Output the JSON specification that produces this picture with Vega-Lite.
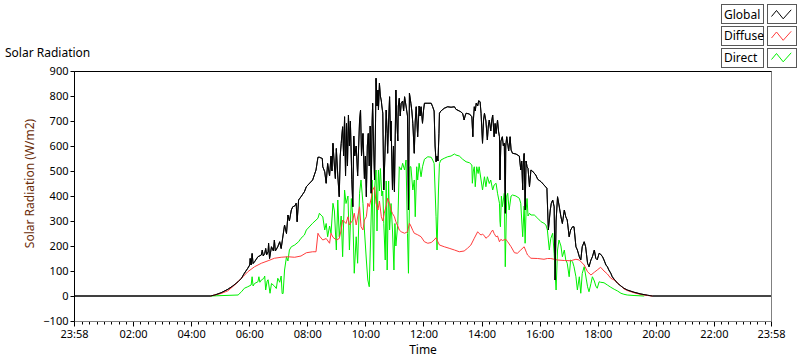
{
  "$schema": "https://vega.github.io/schema/vega-lite/v6.json",
  "width": 697,
  "height": 250,
  "autosize": {"type": "none"},
  "padding": {"left": 74, "top": 71, "right": 29, "bottom": 40},
  "background": "white",
  "title": {"text": "Solar Radiation", "anchor": "start", "frame": "group", "dx": -69, "dy": 60, "fontSize": 12, "fontWeight": "normal", "font": "Noto Sans", "color": "black", "offset": 4},
  "datasets": {
    "global": [
      {"m":-2,"v":0},{"m":280,"v":0},{"m":289,"v":4},{"m":302,"v":13},{"m":316,"v":27},{"m":326,"v":40},{"m":337,"v":57},{"m":344,"v":71},{"m":350,"v":91},{"m":357,"v":111},{"m":361,"v":124},{"m":362,"v":150},{"m":364,"v":124},{"m":366,"v":170},{"m":368,"v":130},{"m":371,"v":137},{"m":378,"v":157},{"m":385,"v":164},{"m":387,"v":184},{"m":389,"v":160},{"m":392,"v":170},{"m":394,"v":190},{"m":396,"v":165},{"m":399,"v":177},{"m":400,"v":211},{"m":402,"v":150},{"m":406,"v":197},{"m":410,"v":180},{"m":412,"v":224},{"m":414,"v":180},{"m":419,"v":197},{"m":423,"v":217},{"m":426,"v":190},{"m":430,"v":244},{"m":433,"v":284},{"m":437,"v":250},{"m":440,"v":324},{"m":443,"v":300},{"m":447,"v":344},{"m":450,"v":357},{"m":454,"v":360},{"m":457,"v":371},{"m":459,"v":297},{"m":462,"v":384},{"m":467,"v":397},{"m":474,"v":417},{"m":478,"v":437},{"m":491,"v":464},{"m":498,"v":504},{"m":502,"v":555},{"m":505,"v":555},{"m":511,"v":550},{"m":512,"v":517},{"m":516,"v":497},{"m":519,"v":451},{"m":522,"v":530},{"m":526,"v":480},{"m":529,"v":560},{"m":531,"v":500},{"m":533,"v":611},{"m":536,"v":520},{"m":538,"v":470},{"m":540,"v":590},{"m":543,"v":480},{"m":546,"v":397},{"m":548,"v":560},{"m":550,"v":610},{"m":553,"v":677},{"m":555,"v":560},{"m":557,"v":717},{"m":559,"v":480},{"m":561,"v":690},{"m":563,"v":520},{"m":565,"v":724},{"m":567,"v":600},{"m":569,"v":700},{"m":572,"v":465},{"m":574,"v":357},{"m":576,"v":640},{"m":578,"v":560},{"m":581,"v":600},{"m":584,"v":480},{"m":588,"v":704},{"m":590,"v":744},{"m":592,"v":560},{"m":595,"v":650},{"m":598,"v":470},{"m":600,"v":560},{"m":602,"v":397},{"m":604,"v":600},{"m":606,"v":650},{"m":608,"v":520},{"m":610,"v":680},{"m":612,"v":411},{"m":614,"v":700},{"m":615,"v":771},{"m":617,"v":600},{"m":619,"v":464},{"m":621,"v":700},{"m":622,"v":871},{"m":624,"v":760},{"m":626,"v":824},{"m":627,"v":744},{"m":629,"v":851},{"m":631,"v":800},{"m":633,"v":780},{"m":634,"v":760},{"m":636,"v":731},{"m":638,"v":424},{"m":640,"v":540},{"m":643,"v":744},{"m":645,"v":650},{"m":646,"v":571},{"m":648,"v":700},{"m":650,"v":797},{"m":652,"v":620},{"m":653,"v":700},{"m":656,"v":424},{"m":658,"v":600},{"m":660,"v":417},{"m":663,"v":824},{"m":665,"v":700},{"m":667,"v":620},{"m":668,"v":760},{"m":670,"v":791},{"m":672,"v":720},{"m":674,"v":771},{"m":677,"v":780},{"m":679,"v":740},{"m":681,"v":797},{"m":684,"v":760},{"m":687,"v":720},{"m":689,"v":344},{"m":691,"v":811},{"m":694,"v":771},{"m":696,"v":740},{"m":698,"v":691},{"m":701,"v":571},{"m":703,"v":700},{"m":705,"v":757},{"m":708,"v":637},{"m":711,"v":760},{"m":713,"v":720},{"m":715,"v":757},{"m":718,"v":691},{"m":720,"v":740},{"m":722,"v":771},{"m":729,"v":771},{"m":736,"v":771},{"m":739,"v":757},{"m":742,"v":740},{"m":744,"v":600},{"m":746,"v":537},{"m":748,"v":560},{"m":750,"v":540},{"m":752,"v":650},{"m":753,"v":731},{"m":756,"v":740},{"m":763,"v":751},{"m":770,"v":757},{"m":777,"v":755},{"m":784,"v":757},{"m":787,"v":747},{"m":794,"v":740},{"m":797,"v":737},{"m":801,"v":730},{"m":804,"v":704},{"m":806,"v":720},{"m":808,"v":731},{"m":815,"v":728},{"m":820,"v":717},{"m":822,"v":637},{"m":823,"v":700},{"m":825,"v":757},{"m":827,"v":740},{"m":829,"v":771},{"m":832,"v":760},{"m":834,"v":781},{"m":837,"v":777},{"m":839,"v":730},{"m":842,"v":611},{"m":844,"v":700},{"m":846,"v":731},{"m":849,"v":700},{"m":852,"v":624},{"m":854,"v":680},{"m":856,"v":704},{"m":859,"v":660},{"m":861,"v":700},{"m":863,"v":724},{"m":866,"v":637},{"m":868,"v":690},{"m":870,"v":650},{"m":873,"v":704},{"m":875,"v":660},{"m":877,"v":637},{"m":878,"v":464},{"m":880,"v":620},{"m":883,"v":637},{"m":885,"v":600},{"m":887,"v":611},{"m":889,"v":331},{"m":890,"v":600},{"m":892,"v":637},{"m":894,"v":610},{"m":896,"v":580},{"m":899,"v":637},{"m":901,"v":584},{"m":904,"v":571},{"m":911,"v":568},{"m":918,"v":560},{"m":921,"v":504},{"m":923,"v":540},{"m":925,"v":424},{"m":926,"v":520},{"m":928,"v":570},{"m":930,"v":344},{"m":932,"v":540},{"m":934,"v":517},{"m":936,"v":510},{"m":939,"v":437},{"m":942,"v":504},{"m":945,"v":500},{"m":952,"v":484},{"m":956,"v":467},{"m":963,"v":457},{"m":969,"v":444},{"m":975,"v":431},{"m":978,"v":264},{"m":982,"v":344},{"m":984,"v":370},{"m":987,"v":384},{"m":990,"v":357},{"m":992,"v":64},{"m":994,"v":300},{"m":997,"v":397},{"m":1000,"v":364},{"m":1004,"v":317},{"m":1007,"v":290},{"m":1011,"v":344},{"m":1014,"v":317},{"m":1017,"v":304},{"m":1021,"v":237},{"m":1024,"v":264},{"m":1028,"v":277},{"m":1031,"v":277},{"m":1035,"v":197},{"m":1038,"v":184},{"m":1042,"v":157},{"m":1045,"v":144},{"m":1048,"v":197},{"m":1052,"v":217},{"m":1055,"v":197},{"m":1059,"v":131},{"m":1062,"v":117},{"m":1066,"v":144},{"m":1069,"v":157},{"m":1073,"v":184},{"m":1076,"v":151},{"m":1079,"v":145},{"m":1083,"v":171},{"m":1086,"v":167},{"m":1090,"v":157},{"m":1093,"v":144},{"m":1097,"v":124},{"m":1100,"v":117},{"m":1103,"v":104},{"m":1107,"v":91},{"m":1110,"v":77},{"m":1114,"v":67},{"m":1121,"v":51},{"m":1128,"v":40},{"m":1134,"v":31},{"m":1141,"v":24},{"m":1155,"v":15},{"m":1169,"v":8},{"m":1183,"v":3},{"m":1193,"v":0},{"m":1438,"v":0}
    ],
    "diffuse": [
      {"m":280,"v":0},{"m":302,"v":10},{"m":316,"v":21},{"m":330,"v":44},{"m":344,"v":71},{"m":357,"v":97},{"m":371,"v":117},{"m":385,"v":131},{"m":399,"v":141},{"m":412,"v":151},{"m":426,"v":155},{"m":440,"v":157},{"m":454,"v":155},{"m":467,"v":160},{"m":478,"v":173},{"m":491,"v":177},{"m":498,"v":177},{"m":502,"v":251},{"m":505,"v":240},{"m":512,"v":224},{"m":519,"v":230},{"m":526,"v":211},{"m":529,"v":251},{"m":533,"v":235},{"m":540,"v":224},{"m":546,"v":230},{"m":550,"v":264},{"m":553,"v":304},{"m":560,"v":290},{"m":564,"v":317},{"m":567,"v":284},{"m":574,"v":304},{"m":577,"v":331},{"m":581,"v":284},{"m":588,"v":357},{"m":591,"v":277},{"m":595,"v":264},{"m":598,"v":304},{"m":602,"v":317},{"m":605,"v":371},{"m":608,"v":357},{"m":612,"v":390},{"m":615,"v":424},{"m":619,"v":437},{"m":622,"v":371},{"m":626,"v":344},{"m":629,"v":380},{"m":633,"v":317},{"m":636,"v":300},{"m":639,"v":331},{"m":643,"v":360},{"m":646,"v":391},{"m":650,"v":370},{"m":653,"v":344},{"m":656,"v":330},{"m":660,"v":317},{"m":663,"v":297},{"m":667,"v":280},{"m":670,"v":264},{"m":674,"v":257},{"m":681,"v":251},{"m":687,"v":257},{"m":691,"v":291},{"m":694,"v":280},{"m":698,"v":262},{"m":701,"v":251},{"m":708,"v":245},{"m":715,"v":237},{"m":722,"v":217},{"m":729,"v":211},{"m":736,"v":214},{"m":742,"v":224},{"m":746,"v":233},{"m":749,"v":220},{"m":753,"v":204},{"m":763,"v":197},{"m":773,"v":191},{"m":784,"v":184},{"m":794,"v":177},{"m":804,"v":180},{"m":811,"v":191},{"m":818,"v":204},{"m":825,"v":231},{"m":832,"v":257},{"m":835,"v":250},{"m":839,"v":244},{"m":842,"v":248},{"m":846,"v":240},{"m":849,"v":231},{"m":852,"v":236},{"m":856,"v":242},{"m":859,"v":253},{"m":863,"v":264},{"m":866,"v":250},{"m":870,"v":237},{"m":873,"v":240},{"m":877,"v":217},{"m":880,"v":227},{"m":883,"v":222},{"m":890,"v":227},{"m":894,"v":217},{"m":901,"v":197},{"m":908,"v":173},{"m":914,"v":171},{"m":921,"v":184},{"m":928,"v":197},{"m":933,"v":173},{"m":935,"v":164},{"m":942,"v":151},{"m":956,"v":150},{"m":969,"v":147},{"m":976,"v":150},{"m":983,"v":150},{"m":997,"v":144},{"m":1011,"v":142},{"m":1024,"v":141},{"m":1035,"v":147},{"m":1042,"v":144},{"m":1052,"v":124},{"m":1059,"v":97},{"m":1066,"v":84},{"m":1073,"v":95},{"m":1079,"v":104},{"m":1086,"v":115},{"m":1093,"v":100},{"m":1100,"v":88},{"m":1107,"v":71},{"m":1114,"v":64},{"m":1121,"v":53},{"m":1128,"v":40},{"m":1134,"v":29},{"m":1141,"v":22},{"m":1155,"v":13},{"m":1169,"v":6},{"m":1183,"v":2},{"m":1193,"v":0}
    ],
    "direct": [
      {"m":280,"v":0},{"m":337,"v":4},{"m":344,"v":17},{"m":350,"v":31},{"m":357,"v":37},{"m":364,"v":44},{"m":366,"v":77},{"m":368,"v":40},{"m":371,"v":50},{"m":378,"v":57},{"m":380,"v":77},{"m":382,"v":55},{"m":385,"v":64},{"m":390,"v":70},{"m":392,"v":80},{"m":394,"v":24},{"m":397,"v":60},{"m":399,"v":65},{"m":403,"v":11},{"m":406,"v":50},{"m":412,"v":40},{"m":416,"v":30},{"m":419,"v":71},{"m":423,"v":55},{"m":426,"v":80},{"m":428,"v":10},{"m":430,"v":10},{"m":433,"v":104},{"m":437,"v":157},{"m":440,"v":140},{"m":443,"v":184},{"m":447,"v":197},{"m":454,"v":204},{"m":462,"v":217},{"m":467,"v":231},{"m":474,"v":244},{"m":478,"v":264},{"m":491,"v":291},{"m":502,"v":311},{"m":505,"v":331},{"m":508,"v":324},{"m":512,"v":317},{"m":516,"v":264},{"m":519,"v":290},{"m":522,"v":237},{"m":526,"v":280},{"m":529,"v":250},{"m":533,"v":371},{"m":536,"v":340},{"m":540,"v":184},{"m":543,"v":384},{"m":546,"v":237},{"m":550,"v":320},{"m":553,"v":157},{"m":557,"v":424},{"m":560,"v":370},{"m":564,"v":400},{"m":567,"v":184},{"m":571,"v":390},{"m":574,"v":320},{"m":577,"v":91},{"m":581,"v":237},{"m":584,"v":131},{"m":588,"v":411},{"m":591,"v":464},{"m":595,"v":370},{"m":598,"v":264},{"m":602,"v":144},{"m":605,"v":64},{"m":608,"v":37},{"m":612,"v":320},{"m":614,"v":464},{"m":617,"v":100},{"m":619,"v":430},{"m":622,"v":504},{"m":624,"v":260},{"m":626,"v":440},{"m":627,"v":504},{"m":629,"v":420},{"m":631,"v":510},{"m":634,"v":400},{"m":636,"v":420},{"m":638,"v":291},{"m":641,"v":144},{"m":643,"v":460},{"m":645,"v":104},{"m":648,"v":460},{"m":650,"v":264},{"m":653,"v":370},{"m":656,"v":264},{"m":659,"v":104},{"m":661,"v":290},{"m":663,"v":200},{"m":667,"v":290},{"m":670,"v":517},{"m":674,"v":504},{"m":677,"v":531},{"m":681,"v":504},{"m":684,"v":544},{"m":687,"v":250},{"m":689,"v":91},{"m":692,"v":517},{"m":694,"v":517},{"m":698,"v":424},{"m":701,"v":464},{"m":703,"v":317},{"m":706,"v":517},{"m":708,"v":464},{"m":711,"v":531},{"m":715,"v":477},{"m":718,"v":517},{"m":722,"v":547},{"m":729,"v":557},{"m":736,"v":555},{"m":739,"v":544},{"m":742,"v":531},{"m":746,"v":317},{"m":748,"v":184},{"m":751,"v":424},{"m":753,"v":530},{"m":756,"v":544},{"m":763,"v":551},{"m":770,"v":557},{"m":777,"v":560},{"m":784,"v":568},{"m":787,"v":564},{"m":794,"v":560},{"m":801,"v":547},{"m":808,"v":537},{"m":815,"v":533},{"m":820,"v":524},{"m":821,"v":451},{"m":823,"v":500},{"m":825,"v":517},{"m":827,"v":437},{"m":830,"v":517},{"m":833,"v":490},{"m":835,"v":517},{"m":839,"v":464},{"m":842,"v":424},{"m":846,"v":477},{"m":849,"v":437},{"m":852,"v":477},{"m":856,"v":450},{"m":859,"v":464},{"m":863,"v":424},{"m":866,"v":444},{"m":870,"v":451},{"m":873,"v":411},{"m":877,"v":371},{"m":878,"v":300},{"m":879,"v":277},{"m":881,"v":400},{"m":883,"v":357},{"m":887,"v":411},{"m":889,"v":117},{"m":892,"v":400},{"m":894,"v":411},{"m":897,"v":344},{"m":901,"v":400},{"m":904,"v":404},{"m":911,"v":400},{"m":918,"v":391},{"m":921,"v":371},{"m":925,"v":237},{"m":928,"v":360},{"m":930,"v":211},{"m":932,"v":340},{"m":934,"v":390},{"m":936,"v":320},{"m":939,"v":331},{"m":942,"v":324},{"m":949,"v":324},{"m":956,"v":311},{"m":963,"v":297},{"m":969,"v":291},{"m":973,"v":284},{"m":976,"v":264},{"m":980,"v":184},{"m":983,"v":230},{"m":987,"v":251},{"m":990,"v":170},{"m":994,"v":24},{"m":997,"v":184},{"m":1000,"v":224},{"m":1004,"v":200},{"m":1007,"v":157},{"m":1011,"v":184},{"m":1014,"v":144},{"m":1017,"v":131},{"m":1021,"v":77},{"m":1024,"v":144},{"m":1028,"v":137},{"m":1031,"v":117},{"m":1035,"v":77},{"m":1038,"v":24},{"m":1042,"v":77},{"m":1045,"v":11},{"m":1048,"v":90},{"m":1052,"v":117},{"m":1055,"v":84},{"m":1059,"v":37},{"m":1062,"v":17},{"m":1066,"v":50},{"m":1069,"v":77},{"m":1073,"v":60},{"m":1076,"v":40},{"m":1079,"v":31},{"m":1083,"v":57},{"m":1086,"v":55},{"m":1093,"v":53},{"m":1100,"v":44},{"m":1107,"v":35},{"m":1114,"v":27},{"m":1121,"v":20},{"m":1128,"v":11},{"m":1134,"v":7},{"m":1141,"v":4},{"m":1155,"v":2},{"m":1176,"v":0}
    ]
  },
  "encoding": {
    "x": {
      "field": "m", "type": "quantitative",
      "scale": {"domain": [-2, 1438], "nice": false, "zero": false},
      "axis": {
        "title": "Time",
        "values": [-2,15,30,45,60,75,90,105,120,135,150,165,180,195,210,225,240,255,270,285,300,315,330,345,360,375,390,405,420,435,450,465,480,495,510,525,540,555,570,585,600,615,630,645,660,675,690,705,720,735,750,765,780,795,810,825,840,855,870,885,900,915,930,945,960,975,990,1005,1020,1035,1050,1065,1080,1095,1110,1125,1140,1155,1170,1185,1200,1215,1230,1245,1260,1275,1290,1305,1320,1335,1350,1365,1380,1395,1410,1425,1438],
        "labelExpr": "datum.value == -2 || datum.value == 1438 ? '23:58' : (datum.value % 120 == 0 ? (datum.value < 600 ? '0' : '') + (datum.value / 60) + ':00' : '')",
        "tickSize": {"condition": {"test": "datum.value % 120 == 0 || datum.value == -2 || datum.value == 1438", "value": 5}, "value": 3},
        "labelOverlap": false,
        "labelFlush": false,
        "grid": false,
        "domainColor": "#808080",
        "tickColor": "black",
        "labelPadding": 2,
        "titlePadding": 5
      }
    },
    "y": {
      "field": "v", "type": "quantitative",
      "scale": {"domain": [-100, 900], "nice": false, "zero": false},
      "axis": {
        "title": "Solar Radiation (W/m2)",
        "values": [-100,0,100,200,300,400,500,600,700,800,900],
        "tickSize": 4,
        "domainColor": "black",
        "tickColor": "black",
        "labelPadding": 2,
        "titleColor": "#6b2d0a",
        "titlePadding": 6,
        "titleY": 112,
        "grid": true,
        "gridColor": {"condition": {"test": "datum.value == 900", "value": "black"}, "value": "transparent"}
      }
    }
  },
  "layer": [
    {"data": {"name": "global"}, "mark": {"type": "line", "strokeWidth": 1, "color": "black"}, "encoding": {
      "strokeDash": {"datum": "Global", "type": "nominal", "scale": {"domain": ["Global", "Diffuse", "Direct"], "range": [[1, 0], [1, 0], [1, 0]]}, "legend": {"orient": "top-left", "offset": -67, "title": null, "symbolType": "M-0.925,-0.2375H0.125V0.2375H-0.925Z M0.225,-0.2375H0.95V0.2375H0.225Z", "symbolSize": 6400, "symbolStrokeWidth": 1, "symbolStrokeColor": "#202020", "symbolFillColor": "transparent", "labelExpr": "''", "symbolOffset": 711, "rowPadding": 2, "clipHeight": 20, "padding": 0}}
    }},
    {"data": {"name": "direct"}, "mark": {"type": "line", "strokeWidth": 1}, "encoding": {"color": {"datum": "Direct", "type": "nominal"}}},
    {"data": {"name": "diffuse"}, "mark": {"type": "line", "strokeWidth": 1}, "encoding": {"color": {"datum": "Diffuse", "type": "nominal"}}},
    {"data": {"name": "global"}, "mark": {"type": "line", "strokeWidth": 1}, "encoding": {
      "color": {"datum": "Global", "type": "nominal", "scale": {"domain": ["Global", "Diffuse", "Direct"], "range": ["#000000", "#ff3c3c", "#00f000"]}, "legend": {"orient": "none", "legendX": 644, "legendY": -67, "title": null, "symbolType": "M-1,0.2L-0.5,-0.4L0.17,0.43L0.97,-0.47", "symbolSize": 400, "symbolStrokeWidth": 1, "symbolFillColor": "transparent", "labelOffset": -68, "symbolOffset": 53, "rowPadding": 4.5, "padding": 0}}
    }}
  ],
  "config": {
    "font": "Noto Sans",
    "view": {"stroke": "#808080", "strokeWidth": 1},
    "axis": {"labelFont": "Noto Sans", "labelFontSize": 11, "labelColor": "black", "titleFont": "Noto Sans", "titleFontSize": 12, "titleFontWeight": "normal", "titleColor": "black"},
    "legend": {"labelFont": "Noto Sans", "labelFontSize": 12, "labelColor": "black"}
  }
}
